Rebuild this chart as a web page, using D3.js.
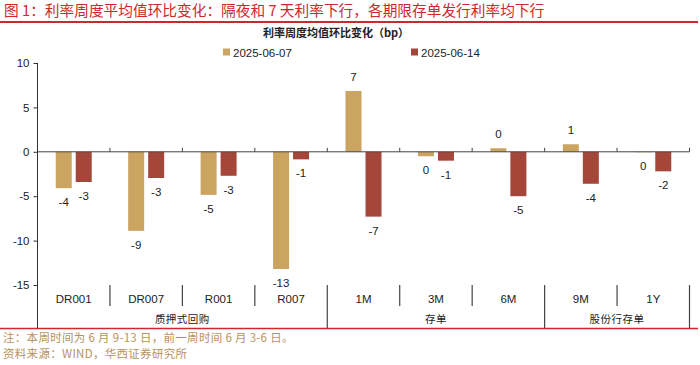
<!DOCTYPE html>
<html>
<head>
<meta charset="utf-8">
<script src="https://cdn.jsdelivr.net/npm/d3@7"></script>
<style>
body{margin:0;background:#fff;}
svg{display:block;font-family:"Liberation Sans","Noto Sans CJK SC",sans-serif;}
.cjk{font-family:"Noto Sans CJK SC",sans-serif;}
</style>
</head>
<body>
<svg></svg>
<script>
var width=700;
var height=365;

// data
var categories=["DR001","DR007","R001","R007","1M","3M","6M","9M","1Y"];
var groups=[{name:"质押式回购",from:0,to:4},{name:"存单",from:4,to:7},{name:"股份行存单",from:7,to:9}];
var seriesNames=["2025-06-07","2025-06-14"];
var week0607=[-4.1,-8.9,-4.85,-13.2,6.85,-0.5,0.4,0.85,-0.05];
var week0614=[-3.4,-2.95,-2.7,-0.85,-7.3,-1.0,-5.0,-3.6,-2.2];
var yTicks=[10,5,0,-5,-10,-15];
var colors=["#CCA461","#A4463A"];

var svg=d3.select("svg")
	.attr("width",width)
	.attr("height",height);

var plotLeft=37.5, plotRight=689.5, plotTop=63, plotBottom=285, tableBottom=328;

var scalex=d3.scaleBand()
	.domain(categories)
	.range([plotLeft,plotRight])
	.padding(0);

var scaley=d3.scaleLinear()
	.domain([-15,10])
	.range([plotBottom,plotTop]);

// header
svg.append("text")
	.attr("class","cjk")
	.attr("x",4)
	.attr("y",16)
	.attr("fill","#D0262D")
	.style("font-size","14.7px")
	.text("图 1：利率周度平均值环比变化：隔夜和 7 天利率下行，各期限存单发行利率均下行");

svg.append("line")
	.attr("x1",0).attr("x2",698)
	.attr("y1",22).attr("y2",22)
	.attr("stroke","#D0262D")
	.attr("stroke-width",2);

svg.append("text")
	.attr("class","cjk")
	.attr("x",336)
	.attr("y",37)
	.attr("text-anchor","middle")
	.attr("fill","#222")
	.style("font-size","11px")
	.style("font-weight","bold")
	.text("利率周度均值环比变化（bp）");

// legend
var legendX=[223,411];
var legend=svg.selectAll(".legend")
	.data(seriesNames)
	.enter()
	.append("g")
	.classed("legend",true)
	.attr("transform",(d,i)=>"translate("+legendX[i]+",52)");
legend.append("rect")
	.attr("x",0).attr("y",-3.5)
	.attr("width",7).attr("height",7)
	.attr("fill",(d,i)=>colors[i]);
legend.append("text")
	.attr("x",10)
	.attr("y",4.5)
	.attr("fill","#222")
	.style("font-size","11.5px")
	.text(d=>d);

// y axis
var yaxis=d3.axisLeft(scaley)
	.tickValues(yTicks)
	.tickSize(4)
	.tickPadding(4);

var gy=svg.append("g")
	.attr("transform","translate("+plotLeft+",0)")
	.call(yaxis);
gy.select(".domain").remove();
gy.selectAll("line").attr("stroke","#333");
gy.selectAll("text")
	.attr("fill","#222")
	.style("font-size","11.5px")
	.style("font-family","Liberation Sans, sans-serif")
	.text(d=>String(d));

svg.append("line")
	.attr("x1",plotLeft).attr("x2",plotLeft)
	.attr("y1",plotTop).attr("y2",tableBottom)
	.attr("stroke","#333");

// bars
var series=[week0607,week0614];
var barW=16, offset=[-10,10];

series.forEach(function(arr,s){
	svg.selectAll(".bar"+s)
		.data(arr)
		.enter()
		.append("rect")
		.classed("bar"+s,true)
		.attr("x",(d,i)=>scalex(categories[i])+scalex.bandwidth()/2+offset[s]-barW/2)
		.attr("y",d=>scaley(Math.max(0,d)))
		.attr("width",barW)
		.attr("height",d=>Math.abs(scaley(d)-scaley(0)))
		.attr("fill",colors[s]);

	svg.selectAll(".label"+s)
		.data(arr)
		.enter()
		.append("text")
		.classed("label"+s,true)
		.attr("x",(d,i)=>scalex(categories[i])+scalex.bandwidth()/2+offset[s])
		.attr("y",d=>d>=0 ? scaley(d)-10 : scaley(d)+18)
		.attr("text-anchor","middle")
		.attr("fill","#222")
		.style("font-size","11.5px")
		.text(d=>{var r=Math.round(d); return r===0 ? "0" : String(r);});
});

// zero line with ticks at category boundaries
var boundaries=d3.range(categories.length+1).map(i=>plotLeft+i*scalex.step());

svg.append("line")
	.attr("x1",plotLeft).attr("x2",plotRight)
	.attr("y1",scaley(0)).attr("y2",scaley(0))
	.attr("stroke","#444");

svg.selectAll(".zerotick")
	.data(boundaries.slice(1))
	.enter()
	.append("line")
	.classed("zerotick",true)
	.attr("x1",d=>d).attr("x2",d=>d)
	.attr("y1",scaley(0)-4).attr("y2",scaley(0))
	.attr("stroke","#444");

// category table below the plot
var groupEdges=groups.map(g=>g.to);

svg.selectAll(".sep")
	.data(d3.range(1,categories.length+1))
	.enter()
	.append("line")
	.classed("sep",true)
	.attr("x1",i=>boundaries[i]).attr("x2",i=>boundaries[i])
	.attr("y1",plotBottom)
	.attr("y2",i=>groupEdges.indexOf(i)>=0 ? tableBottom : 306)
	.attr("stroke","#444")
	.attr("stroke-width",1.2);

svg.selectAll(".cat")
	.data(categories)
	.enter()
	.append("text")
	.classed("cat",true)
	.attr("x",d=>scalex(d)+scalex.bandwidth()/2)
	.attr("y",303)
	.attr("text-anchor","middle")
	.attr("fill","#222")
	.style("font-size","11.5px")
	.text(d=>d);

svg.selectAll(".grp")
	.data(groups)
	.enter()
	.append("text")
	.attr("class","grp cjk")
	.attr("x",d=>(boundaries[d.from]+boundaries[d.to])/2)
	.attr("y",323)
	.attr("text-anchor","middle")
	.attr("fill","#222")
	.style("font-size","10.5px")
	.style("letter-spacing","0.5px")
	.text(d=>d.name);

svg.append("line")
	.attr("x1",0).attr("x2",698)
	.attr("y1",328.5).attr("y2",328.5)
	.attr("stroke","#D0262D")
	.attr("stroke-width",1.5);

// footnotes
svg.append("text")
	.attr("class","cjk")
	.attr("x",3)
	.attr("y",341.5)
	.attr("fill","#B8925A")
	.style("font-size","11.5px")
	.style("letter-spacing","0.3px")
	.text("注：本周时间为 6 月 9-13 日，前一周时间 6 月 3-6 日。");

svg.append("text")
	.attr("class","cjk")
	.attr("x",3)
	.attr("y",357.5)
	.attr("fill","#B8925A")
	.style("font-size","11.5px")
	.style("letter-spacing","0.3px")
	.text("资料来源：WIND，华西证券研究所");
</script>
</body>
</html>
